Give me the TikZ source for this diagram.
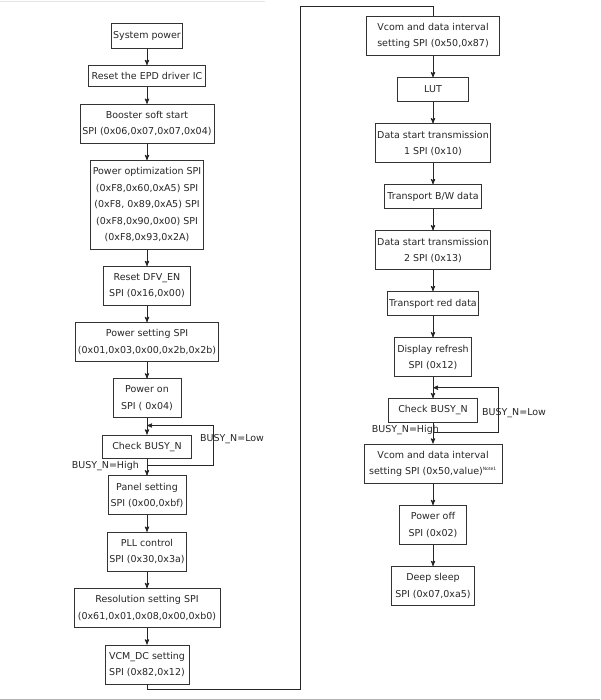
\documentclass[tikz,border=0pt]{standalone}
\usepackage{fontspec}
\setmainfont{DejaVu Sans}
\usetikzlibrary{arrows,positioning,calc}

\begin{document}
\begin{tikzpicture}[>=stealth',x=1pt,y=-1pt,node distance=16.5pt,
        every node/.style={font=\fontsize{9.5}{16.5}\selectfont,text=black!85},
        box/.style={draw=black!80,line width=0.9pt,align=center,inner xsep=2pt,inner ysep=7pt,minimum width=#1},
        single/.style={text height=7.6pt,text depth=2.6pt},
        busy/.style={inner sep=0pt},
        link/.style={draw=black!85,line width=0.9pt}]
                \useasboundingbox (0,0) rectangle (600,700);
                \draw[black!10,line width=0.6pt] (0,1) -- (265,1);
                \draw[black!30,line width=0.8pt] (0,699) -- (600,699);

                \node[box=70, single]             (syspower) at (147,36) {System power};
                \node[box=117, below=of syspower] (reset)    {Reset the EPD driver IC};
                \node[box=134, below=of reset]    (booster)  {Booster soft start\\SPI (0x06,0x07,0x07,0x04)};
                \node[box=113, below=of booster]  (poweropt) {Power optimization SPI\\(0xF8,0x60,0xA5) SPI\\(0xF8, 0x89,0xA5) SPI\\(0xF8,0x90,0x00) SPI\\(0xF8,0x93,0x2A)};
                \node[box=87, below=of poweropt]  (dfven)    {Reset DFV\_EN\\SPI (0x16,0x00)};
                \node[box=143, below=of dfven]    (powerset) {Power setting SPI\\(0x01,0x03,0x00,0x2b,0x2b)};
                \node[box=68, below=of powerset]  (poweron)  {Power on\\SPI ( 0x04)};
                \node[box=89, below=of poweron]   (checkA)   {Check BUSY\_N};
                \node[box=78, below=of checkA]    (panel)    {Panel setting\\SPI (0x00,0xbf)};
                \node[box=78, below=of panel]     (pll)      {PLL control\\SPI (0x30,0x3a)};
                \node[box=146, below=of pll]      (resol)    {Resolution setting SPI\\(0x61,0x01,0x08,0x00,0xb0)};
                \node[box=84, below=of resol]     (vcmdc)    {VCM\_DC setting\\SPI (0x82,0x12)};

                \begin{scope}[node distance=21pt]
                \node[box=133]                    (vcomA)    at (433,36) {Vcom and data interval\\setting SPI (0x50,0x87)};
                \node[box=71, single, below=of vcomA]    (lut)     {LUT};
                \node[box=114, below=of lut]      (datastA)  {Data start transmission\\1 SPI (0x10)};
                \node[box=97, single, below=of datastA]  (bwdata)  {Transport B/W data};
                \node[box=114, below=of bwdata]   (datastB)  {Data start transmission\\2 SPI (0x13)};
                \node[box=90, single, below=of datastB]  (reddata) {Transport red data};
                \node[box=77, below=of reddata]   (refresh)  {Display refresh\\SPI (0x12)};
                \node[box=89, below=of refresh]   (checkB)   {Check BUSY\_N};
                \node[box=138, below=of checkB]   (vcomB)    {Vcom and data interval\\setting SPI (0x50,value)\textsuperscript{\fontsize{4.5}{5}\selectfont Note1}};
                \node[box=67, below=of vcomB]     (poweroff) {Power off\\SPI (0x02)};
                \node[box=83, below=of poweroff]  (deepsleep) {Deep sleep\\SPI (0x07,0xa5)};
                \end{scope}

                \path[->,link] (syspower) edge (reset)
                          (reset)    edge (booster)
                          (booster)  edge (poweropt)
                          (poweropt) edge (dfven)
                          (dfven)    edge (powerset)
                          (powerset) edge (poweron)
                          (poweron)  edge (checkA)
                          (checkA)   edge (panel)
                          (panel)    edge (pll)
                          (pll)      edge (resol)
                          (resol)    edge (vcmdc)
                          (vcomA)    edge (lut)
                          (lut)      edge (datastA)
                          (datastA)  edge (bwdata)
                          (bwdata)   edge (datastB)
                          (datastB)  edge (reddata)
                          (reddata)  edge (refresh)
                          (refresh)  edge (checkB)
                          (checkB)   edge (vcomB)
                          (vcomB)    edge (poweroff)
                          (poweroff) edge (deepsleep);

                % busy loops
                \coordinate (upA)   at ($(poweron.south)!.45!(checkA.north)$);
                \coordinate (downA) at ($(checkA.south)!.4!(panel.north)$);
                \draw[->,link] (downA) -- ($(checkA.east |- downA)+(21,0)$) |- (upA);
                \coordinate (upB)   at ($(refresh.south)!.5!(checkB.north)$);
                \coordinate (downB) at ($(checkB.south)!.45!(vcomB.north)$);
                \draw[->,link] (downB) -- ($(checkB.east |- downB)+(20,0)$) |- (upB);

                \node[busy, anchor=west] (lowA)  at ($(checkA.east)+(8,-7.5)$) {BUSY\_N=Low};
                \node[busy, anchor=east] (highA) at ($(checkA.south)+(-8,7)$)  {BUSY\_N=High};
                \node[busy, anchor=west] (lowB)  at ($(checkB.east)+(4,2.5)$)  {BUSY\_N=Low};
                \node[busy, anchor=east] (highB) at ($(checkB.south)+(6,7)$)   {BUSY\_N=High};

                % link between the columns
                \coordinate (botturn) at (300,689);
                \coordinate (topturn) at (300,6);
                \draw[link] (vcmdc.south) |- (botturn) -- (topturn) -| (vcomA.north);
\end{tikzpicture}
\end{document}
